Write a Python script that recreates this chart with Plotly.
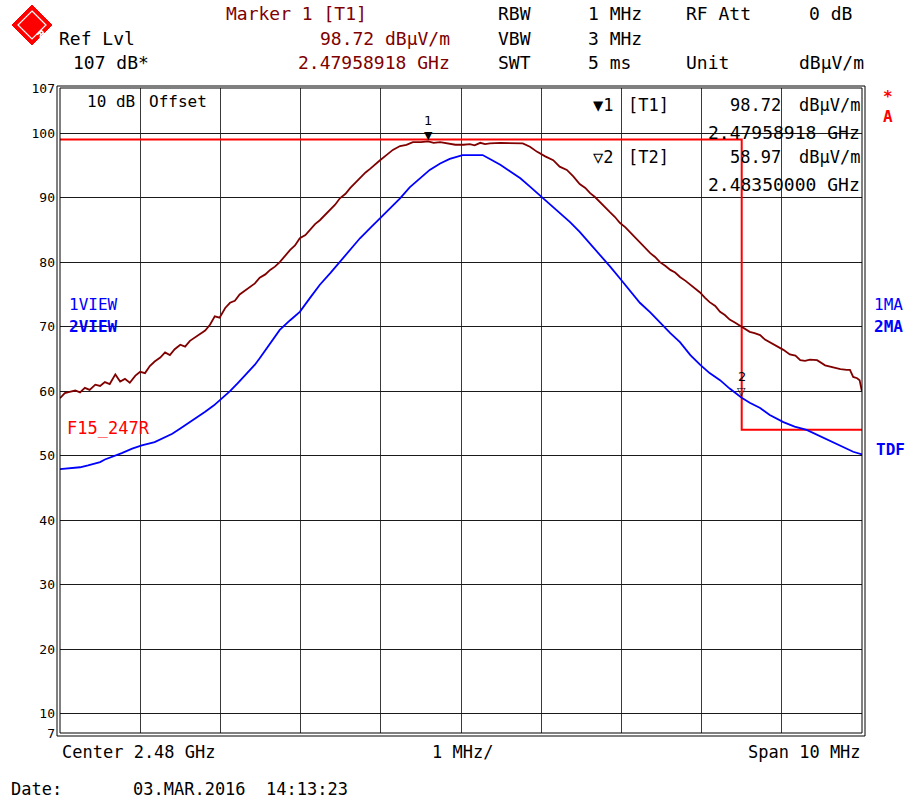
import plotly.graph_objects as go

# ---------------- data ----------------
START_MHZ = 2475.0   # Center 2.48 GHz, Span 10 MHz
STOP_MHZ = 2485.0

# Trace 1 (max peak) : offset above start (MHz), level (dBuV/m)
t1_offset = [0.00, 0.06, 0.12, 0.19, 0.25, 0.31, 0.37, 0.44, 0.50, 0.56, 0.62, 0.69, 0.75, 0.81,
             0.87, 0.94, 1.00, 1.06, 1.12, 1.18, 1.25, 1.31, 1.37, 1.43, 1.50, 1.56, 1.62, 1.68,
             1.75, 1.81, 1.87, 1.93, 1.99, 2.06, 2.12, 2.18, 2.24, 2.31, 2.37, 2.43, 2.49, 2.56,
             2.62, 2.68, 2.74, 2.81, 2.87, 2.93, 2.99, 3.06, 3.12, 3.18, 3.24, 3.31, 3.37, 3.43,
             3.49, 3.56, 3.62, 3.68, 3.74, 3.81, 3.87, 3.93, 3.99, 4.07, 4.15, 4.24, 4.32, 4.40,
             4.50, 4.59, 4.66, 4.74, 4.83, 4.93, 5.03, 5.11, 5.17, 5.24, 5.30, 5.36, 5.49, 5.61,
             5.70, 5.77, 5.86, 5.95, 6.05, 6.15, 6.23, 6.32, 6.40, 6.48, 6.55, 6.61, 6.67, 6.73,
             6.80, 6.86, 6.92, 6.98, 7.05, 7.11, 7.17, 7.23, 7.30, 7.36, 7.42, 7.48, 7.55, 7.61,
             7.67, 7.73, 7.80, 7.86, 7.92, 7.98, 8.04, 8.10, 8.17, 8.23, 8.29, 8.35, 8.42, 8.50,
             8.60, 8.66, 8.73, 8.79, 8.85, 8.93, 9.02, 9.10, 9.17, 9.23, 9.29, 9.35, 9.44, 9.54,
             9.60, 9.64, 9.73, 9.81, 9.85, 9.89, 9.94, 9.97, 10.00]
t1_level = [58.9, 59.7, 59.9, 60.1, 59.8, 60.5, 60.2, 61.0, 60.8, 61.4, 61.1, 62.6, 61.5, 61.9,
            61.3, 62.4, 63.0, 62.8, 63.9, 64.6, 65.2, 66.0, 65.6, 66.5, 67.2, 66.9, 67.8, 68.3,
            69.0, 69.4, 70.3, 71.6, 71.4, 72.9, 73.7, 74.0, 75.0, 75.6, 76.1, 76.7, 77.6, 78.1,
            78.8, 79.3, 80.0, 81.1, 81.9, 82.6, 83.7, 84.2, 85.0, 85.9, 86.5, 87.4, 88.2, 88.9,
            89.9, 90.6, 91.5, 92.3, 93.0, 93.9, 94.5, 95.2, 95.8, 96.6, 97.4, 98.0, 98.2, 98.6,
            98.6, 98.72, 98.5, 98.6, 98.4, 98.2, 98.2, 98.3, 98.1, 98.5, 98.3, 98.4, 98.5, 98.5,
            98.5, 98.4, 97.9, 97.1, 96.4, 95.8, 94.8, 94.3, 93.3, 92.1, 91.5, 90.7, 90.1, 89.3,
            88.4, 87.7, 87.0, 86.1, 85.4, 84.6, 83.9, 83.1, 82.1, 81.4, 80.8, 80.0, 79.4, 78.8,
            78.4, 77.7, 77.1, 76.5, 76.0, 75.3, 74.5, 73.8, 73.2, 72.3, 71.8, 71.1, 70.6, 70.0,
            69.2, 69.0, 68.7, 68.0, 67.6, 67.1, 66.4, 65.7, 65.5, 64.8, 64.7, 64.9, 64.8, 64.0,
            63.8, 63.6, 63.4, 63.3, 63.3, 62.2, 62.0, 61.7, 59.9]

# Trace 2 (view) : offset above start (MHz), level (dBuV/m)
t2_offset = [0.00, 0.10, 0.25, 0.35, 0.50, 0.56, 0.69, 0.77, 0.90, 1.02, 1.18, 1.31, 1.40, 1.50,
             1.60, 1.71, 1.81, 1.92, 2.02, 2.12, 2.22, 2.32, 2.43, 2.49, 2.62, 2.74, 2.87, 2.99,
             3.12, 3.24, 3.37, 3.49, 3.62, 3.74, 3.87, 3.99, 4.11, 4.24, 4.36, 4.49, 4.61, 4.74,
             4.86, 5.02, 5.27, 5.36, 5.49, 5.61, 5.74, 5.86, 5.99, 6.11, 6.23, 6.36, 6.48, 6.61,
             6.73, 6.86, 6.98, 7.11, 7.23, 7.36, 7.48, 7.61, 7.73, 7.86, 7.98, 8.10, 8.23, 8.35,
             8.50, 8.60, 8.73, 8.85, 9.02, 9.16, 9.31, 9.48, 9.64, 9.76, 9.89, 10.00]
t2_level = [47.9, 48.0, 48.2, 48.5, 49.0, 49.4, 50.0, 50.4, 51.1, 51.6, 52.1, 52.8, 53.4, 54.2,
            55.0, 55.9, 56.8, 57.8, 58.9, 60.0, 61.3, 62.6, 64.1, 65.1, 67.3, 69.5, 71.0, 72.3,
            74.5, 76.5, 78.3, 80.0, 81.9, 83.7, 85.3, 86.8, 88.4, 89.9, 91.6, 93.0, 94.3, 95.3,
            96.0, 96.6, 96.6, 96.0, 95.1, 94.1, 93.0, 91.7, 90.3, 89.0, 87.6, 86.2, 84.7, 82.9,
            81.1, 79.3, 77.5, 75.6, 73.7, 72.2, 70.6, 69.0, 67.6, 65.6, 64.1, 62.8, 61.7, 60.4,
            58.97, 58.2, 57.4, 56.3, 55.2, 54.5, 54.0, 53.0, 52.0, 51.3, 50.6, 50.2]

# Limit line F15_247R
lim_offset = [0.0, 8.5, 8.5, 10.0]
lim_level = [99.0, 99.0, 54.0, 54.0]

# Markers
m1_freq_mhz, m1_level = 2479.58918, 98.72
m2_freq_mhz, m2_level = 2483.50000, 58.97

y_ticks = [7, 10, 20, 30, 40, 50, 60, 70, 80, 90, 100, 107]
y_ticktext = [str(v) for v in y_ticks]
x_grid = [START_MHZ + i for i in range(11)]

# ---------------- figure ----------------
DARKRED = "#800000"
BLUE = "#0000FF"
RED = "#FF0000"
FONT = "DejaVu Sans Mono"

L, R, T, B = 60, 862, 88, 733          # plot area in pixels
W, H = 906, 802


def PX(x):
    return (x - L) / (R - L)


def PY(y):
    return (B - y) / (B - T)


fig = go.Figure()
fig.add_trace(go.Scatter(x=[START_MHZ + o for o in lim_offset], y=lim_level, mode="lines",
                         line=dict(color=RED, width=2), hoverinfo="skip"))
fig.add_trace(go.Scatter(x=[START_MHZ + o for o in t2_offset], y=t2_level, mode="lines",
                         line=dict(color=BLUE, width=1.8), name="2VIEW"))
fig.add_trace(go.Scatter(x=[START_MHZ + o for o in t1_offset], y=t1_level, mode="lines",
                         line=dict(color=DARKRED, width=1.8), name="1VIEW"))

ann = []


def txt(s, x, y, anchor="left", color="black", size=18, bold=False):
    ann.append(dict(text=("<b>%s</b>" % s) if bold else s, x=PX(x), y=PY(y), xref="paper", yref="paper",
                    xanchor=anchor, yanchor="middle", showarrow=False,
                    font=dict(family=FONT, size=size, color=color)))


# header
txt("Ref Lvl", 57, 38)
txt("107 dB*", 71, 63)
txt("Marker 1 [T1]", 224, 13, color=DARKRED)
txt("98.72 dBµV/m", 452, 38, "right", DARKRED)
txt("2.47958918 GHz", 452, 63, "right", DARKRED)
txt("RBW", 496, 13)
txt("1 MHz", 586, 13)
txt("RF Att", 684, 13)
txt("0 dB", 854, 13, "right")
txt("VBW", 496, 38)
txt("3 MHz", 586, 38)
txt("SWT", 496, 63)
txt("5 ms", 586, 63)
txt("Unit", 684, 63)
txt("dBµV/m", 866, 63, "right")

# inside plot
txt("10 dB", 137, 102, "right", size=16)
txt("Offset", 147, 102, size=16)
txt("▼1", 615, 105, "right", size=17)
txt("[T1]", 626, 105, size=17)
txt("98.72", 783, 105, "right", size=17)
txt("dBµV/m", 862, 105, "right", size=17)
txt("2.47958918 GHz", 862, 132, "right", size=18)
txt("▽2", 615, 157, "right", size=17)
txt("[T2]", 626, 157, size=17)
txt("58.97", 783, 157, "right", size=17)
txt("dBµV/m", 862, 157, "right", size=17)
txt("2.48350000 GHz", 862, 184, "right", size=18)

txt("1VIEW", 67, 304, color=BLUE, size=16)
txt("2VIEW", 67, 326, color=BLUE, size=16, bold=True)
txt("F15_247R", 65, 428, color=RED, size=17)

# right side
txt("*", 888, 96, "center", RED, 16, True)
txt("A", 888, 116, "center", RED, 16, True)
txt("1MA", 872, 304, color=BLUE, size=16)
txt("2MA", 872, 326, color=BLUE, size=16, bold=True)
txt("TDF", 874, 449, color=BLUE, size=16, bold=True)

# bottom
txt("Center 2.48 GHz", 60, 752, size=17)
txt("1 MHz/", 463, 752, "center", size=17)
txt("Span 10 MHz", 863, 752, "right", size=17)
txt("Date:", 9, 789, size=17)
txt("03.MAR.2016  14:13:23", 131, 789, size=17)

# markers
for fx, lv, sym, lab in [(m1_freq_mhz, m1_level, "▼", "1"), (m2_freq_mhz, m2_level, "▽", "2")]:
    ann.append(dict(text=sym, x=fx, y=lv, xref="x", yref="y", showarrow=False, yanchor="middle",
                    yshift=6, font=dict(family="DejaVu Sans", size=11, color="black")))
    ann.append(dict(text=lab, x=fx, y=lv, xref="x", yref="y", showarrow=False, yanchor="middle",
                    yshift=21, font=dict(family="DejaVu Sans", size=13, color="black")))

# R&S logo
cx, cy, hs = 32, 25, 20
logo = "M %f %f L %f %f L %f %f L %f %f Z" % (PX(cx), PY(cy - hs), PX(cx + hs), PY(cy),
                                              PX(cx), PY(cy + hs), PX(cx - hs), PY(cy))
hs2 = 14
logo2 = "M %f %f L %f %f L %f %f L %f %f Z" % (PX(cx), PY(cy - hs2), PX(cx + hs2), PY(cy),
                                               PX(cx), PY(cy + hs2), PX(cx - hs2), PY(cy))
shapes = [
    dict(type="path", path=logo, xref="paper", yref="paper", fillcolor=RED, line=dict(color=RED, width=1)),
    dict(type="path", path=logo2, xref="paper", yref="paper", fillcolor="rgba(0,0,0,0)",
         line=dict(color="white", width=1.2)),
    # double frame
    dict(type="rect", xref="paper", yref="paper", x0=0, y0=0, x1=1, y1=1,
         line=dict(color="black", width=1)),
    dict(type="rect", xref="paper", yref="paper", x0=PX(L - 3), y0=PY(B + 3), x1=PX(R + 3), y1=PY(T - 2),
         line=dict(color="black", width=1)),
]
ann.append(dict(text="<b>R&S</b>", x=PX(cx), y=PY(cy), xref="paper", yref="paper", showarrow=False,
                textangle=45, font=dict(family="DejaVu Sans", size=9, color="white")))

fig.update_layout(
    width=W, height=H, autosize=False,
    margin=dict(l=L, r=W - R, t=T, b=H - B, pad=0),
    paper_bgcolor="white", plot_bgcolor="white",
    showlegend=False,
    xaxis=dict(range=[START_MHZ, STOP_MHZ], tickvals=x_grid, showticklabels=False, ticks="",
               showgrid=True, gridcolor="#3a3a3a", gridwidth=1, zeroline=False, showline=False,
               fixedrange=True),
    yaxis=dict(range=[7, 107], tickvals=y_ticks, ticktext=y_ticktext, ticks="",
               showgrid=True, gridcolor="#1a1a1a", gridwidth=1, zeroline=False, showline=False,
               tickfont=dict(family=FONT, size=13, color="black"), ticklabelstandoff=4,
               fixedrange=True),
    annotations=ann, shapes=shapes,
)

fig.write_html("out.html")
